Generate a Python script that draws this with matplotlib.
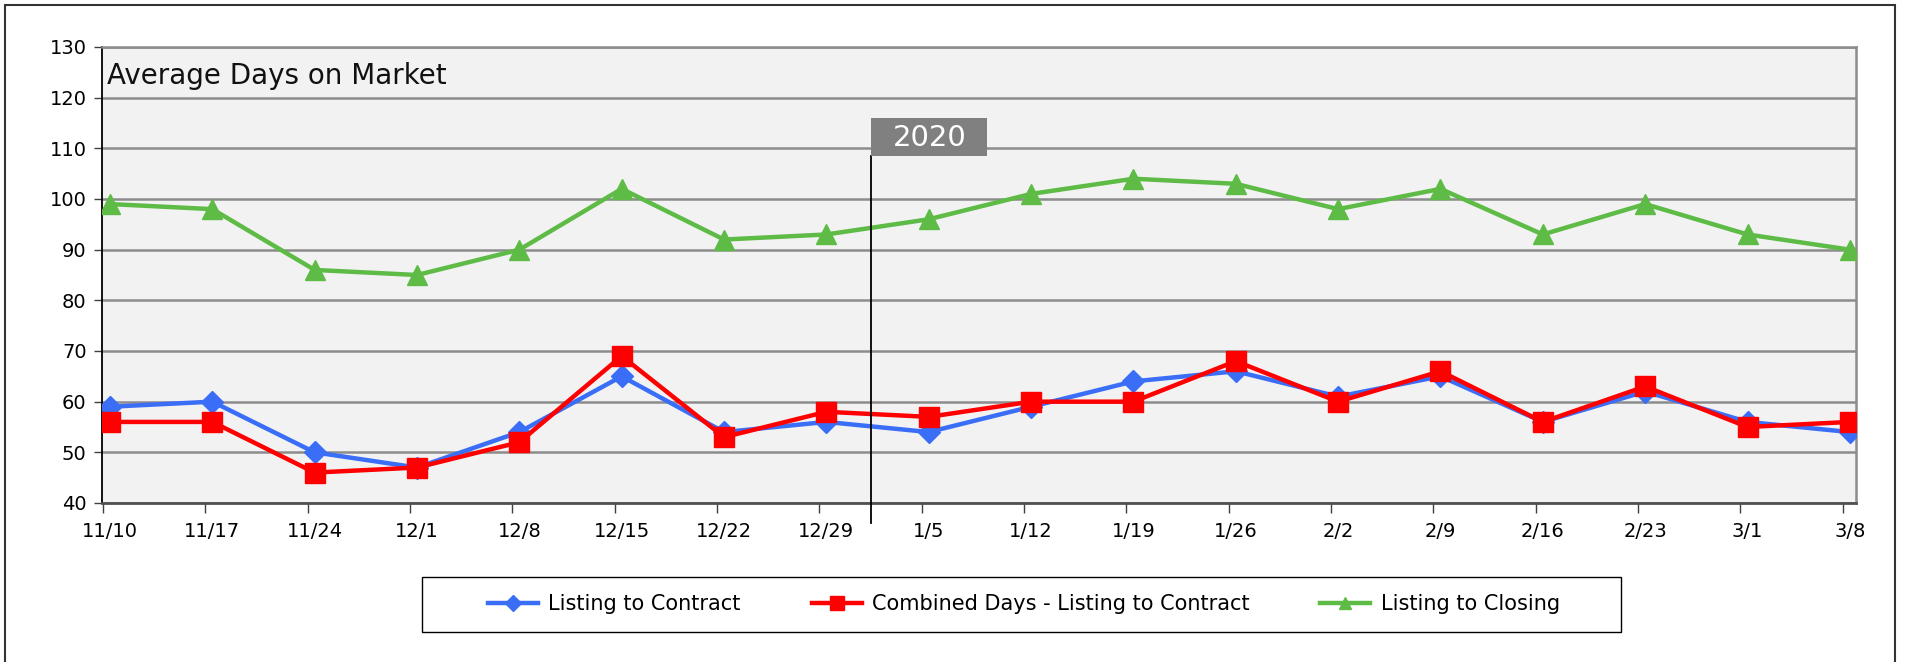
import matplotlib
matplotlib.use("Agg")
import matplotlib.pyplot as plt
from matplotlib.patches import Rectangle
from matplotlib.lines import Line2D

categories = ["11/10", "11/17", "11/24", "12/1", "12/8", "12/15", "12/22", "12/29",
              "1/5", "1/12", "1/19", "1/26", "2/2", "2/9", "2/16", "2/23", "3/1", "3/8"]
listing_to_contract = [59, 60, 50, 47, 54, 65, 54, 56, 54, 59, 64, 66, 61, 65, 56, 62, 56, 54]
combined_days = [56, 56, 46, 47, 52, 69, 53, 58, 57, 60, 60, 68, 60, 66, 56, 63, 55, 56]
listing_to_closing = [99, 98, 86, 85, 90, 102, 92, 93, 96, 101, 104, 103, 98, 102, 93, 99, 93, 90]
series_names = ["Listing to Contract", "Combined Days - Listing to Contract", "Listing to Closing"]
y_ticks = [40, 50, 60, 70, 80, 90, 100, 110, 120, 130]
year_label = "2020"
year_pos = 7.44

plt.rcParams['font.family'] = ['DejaVu Sans']

W, H = 1908, 662
fig = plt.figure(figsize=(W / 100, H / 100), dpi=100)

def fx(px):
    return px / W

def fy(py):
    return 1 - py / H

ax_l, ax_r, ax_t, ax_b = 102, 1856, 47, 503
ax = fig.add_axes([fx(ax_l), fy(ax_b), fx(ax_r - ax_l), fy(ax_t) - fy(ax_b)])
ax.set_facecolor("#F2F2F2")

x = list(range(len(categories)))
blue, red, green = "#3A6EF7", "#FF0000", "#5DBB46"
lw = 3.2
ax.plot(x, listing_to_closing, color=green, lw=lw, marker="^", ms=15, zorder=3)
ax.plot(x, listing_to_contract, color=blue, lw=lw, marker="D", ms=11, zorder=4)
ax.plot(x, combined_days, color=red, lw=lw, marker="s", ms=14, zorder=5)

ax.set_ylim(40, 130)
ax.set_xlim(-0.078, 17.06)
ax.set_yticks(y_ticks)
ax.set_yticklabels([str(v) for v in y_ticks], fontsize=14)
ax.yaxis.grid(True, color="#8C8C8C", lw=1.8, zorder=1)
ax.set_axisbelow(True)

tick_off = 0.07
ax.set_xticks([i - tick_off for i in x])
ax.set_xticklabels([""] * len(x))
ax.set_xticks(x, minor=True)
ax.set_xticklabels(categories, minor=True, fontsize=14)
ax.tick_params(axis="x", which="major", length=7, width=1, color="#404040")
ax.tick_params(axis="x", which="minor", length=0, pad=14)
ax.tick_params(axis="y", length=6, width=1, color="#404040", pad=5)

for s in ["top", "right"]:
    ax.spines[s].set_color("#8C8C8C")
    ax.spines[s].set_linewidth(1.8)
ax.spines["left"].set_color("#000000")
ax.spines["left"].set_linewidth(1.3)
ax.spines["bottom"].set_color("#505050")
ax.spines["bottom"].set_linewidth(2)

# Title inside the plot
fig.text(fx(107), fy(84), "Average Days on Market", fontsize=20, va="baseline", ha="left", color="#111111")

# 2020 divider
yr_px = ax.transData.transform((year_pos, 40))[0]
fig.add_artist(Line2D([fx(yr_px), fx(yr_px)], [fy(523), fy(156)], color="black", lw=1.3, zorder=6))
fig.add_artist(Rectangle((fx(yr_px), fy(156)), fx(116), fy(118) - fy(156), facecolor="#808080",
                         edgecolor="none", zorder=7))
fig.text(fx(yr_px + 58), fy(137.5), year_label, color="white", fontsize=21, ha="center", va="center", zorder=8)

# Legend
fig.add_artist(Rectangle((fx(422), fy(631.5)), fx(1621 - 422), fy(577) - fy(631.5), facecolor="white",
                         edgecolor="black", lw=1.0, zorder=2))
handles = [Line2D([], [], color=blue, lw=lw, marker="D", ms=8),
           Line2D([], [], color=red, lw=lw, marker="s", ms=10),
           Line2D([], [], color=green, lw=lw, marker="^", ms=9)]
leg = fig.legend(handles, series_names, loc="center", bbox_to_anchor=(fx(1024), fy(604.5)), ncol=3,
                 frameon=False, fontsize=15, handlelength=2.4, columnspacing=3.4, handletextpad=0.5)
leg.set_zorder(3)

# Outer frame
fig.add_artist(Rectangle((fx(5), fy(680)), fx(1895 - 5), fy(5) - fy(680), facecolor="none",
                         edgecolor="#333333", lw=1.5, zorder=10))

fig.savefig("out.png", dpi=100)
